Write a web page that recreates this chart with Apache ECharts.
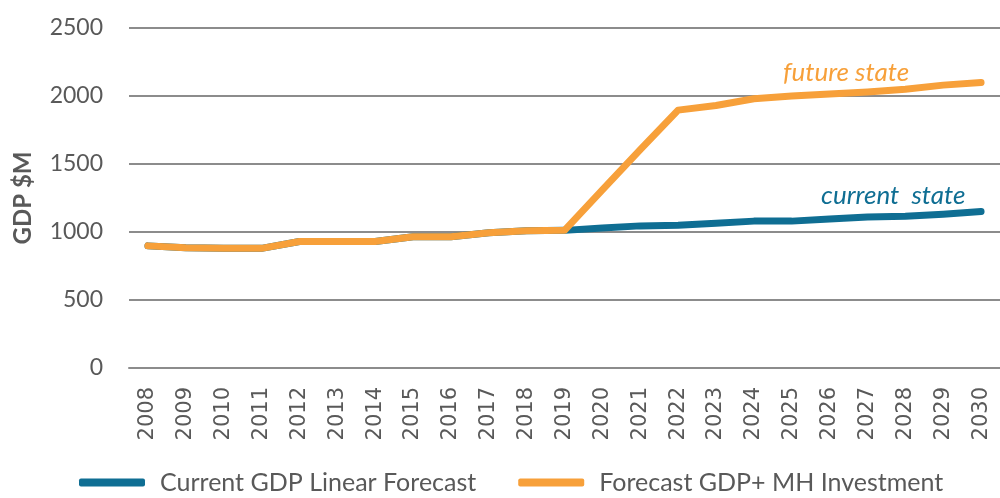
<!DOCTYPE html>
<html>
<head>
    <meta charset="UTF-8">
    <title>GDP forecast</title>
    <style>
        html, body { margin: 0; padding: 0; background: #fff; }
        #container { width: 1000px; height: 498px; }
    </style>
</head>
<body>
    <div id="container"></div>
    <script src="https://cdn.jsdelivr.net/npm/echarts@6/dist/echarts.min.js"></script>
    <script type="text/javascript">
        var years = ['2008', '2009', '2010', '2011', '2012', '2013', '2014', '2015', '2016', '2017', '2018', '2019',
            '2020', '2021', '2022', '2023', '2024', '2025', '2026', '2027', '2028', '2029', '2030'];
        var currentGdp = [898, 885, 880, 880, 930, 930, 930, 965, 965, 995, 1010, 1012,
            1030, 1045, 1050, 1065, 1080, 1080, 1095, 1110, 1115, 1130, 1150];
        var investGdp = [898, 885, 880, 880, 930, 930, 930, 965, 965, 995, 1010, 1012,
            1310, 1605, 1896, 1930, 1980, 2000, 2015, 2030, 2050, 2080, 2100];
        var seriesNames = ['Current GDP Linear Forecast', 'Forecast GDP+ MH Investment'];

        var font = 'Lato, "Open Sans", sans-serif';
        var grey = '#595959';
        var blue = '#0f6e93';
        var orange = '#f7a03a';

        var myChart = echarts.init(document.getElementById('container'));
        var option = {
            animation: false,
            grid: { left: 129, right: 0, top: 28, bottom: 130 },
            legend: {
                bottom: -2,
                left: 74,
                itemWidth: 66,
                itemHeight: 8,
                itemGap: 42,
                icon: 'roundRect',
                textStyle: { color: grey, fontSize: 25, fontFamily: font, padding: [0, 0, 0, 10] },
                data: seriesNames
            },
            xAxis: {
                type: 'category',
                data: years,
                boundaryGap: true,
                axisTick: { show: false },
                axisLine: { lineStyle: { color: '#8c8c8c', width: 2 } },
                axisLabel: { rotate: 90, color: grey, fontSize: 21, fontFamily: '"DejaVu Sans", sans-serif', margin: 19, interval: 0 }
            },
            yAxis: {
                type: 'value',
                min: 0,
                max: 2500,
                interval: 500,
                name: 'GDP $M',
                nameLocation: 'middle',
                nameGap: 94,
                nameTextStyle: { color: grey, fontSize: 24, fontWeight: 'bold', fontFamily: font },
                axisLabel: {
                    color: grey, fontSize: 23, fontFamily: font, margin: 26,
                    formatter: function (v) { return String(v); }
                },
                splitLine: { lineStyle: { color: '#8c8c8c', width: 2 } }
            },
            series: [
                {
                    name: seriesNames[0],
                    type: 'line',
                    data: currentGdp,
                    symbol: 'none',
                    color: blue,
                    lineStyle: { width: 7, cap: 'round', join: 'round' },
                    endLabel: {
                        show: true,
                        formatter: 'current  state',
                        color: blue,
                        fontSize: 26,
                        fontStyle: 'italic',
                        fontFamily: font,
                        offset: [-168, -16]
                    }
                },
                {
                    name: seriesNames[1],
                    type: 'line',
                    data: investGdp,
                    symbol: 'none',
                    color: orange,
                    lineStyle: { width: 7, cap: 'round', join: 'round' },
                    endLabel: {
                        show: true,
                        formatter: 'future state',
                        color: orange,
                        fontSize: 26,
                        fontStyle: 'italic',
                        fontFamily: font,
                        offset: [-206, -10]
                    }
                }
            ]
        };
        myChart.setOption(option);
    </script>
</body>
</html>
